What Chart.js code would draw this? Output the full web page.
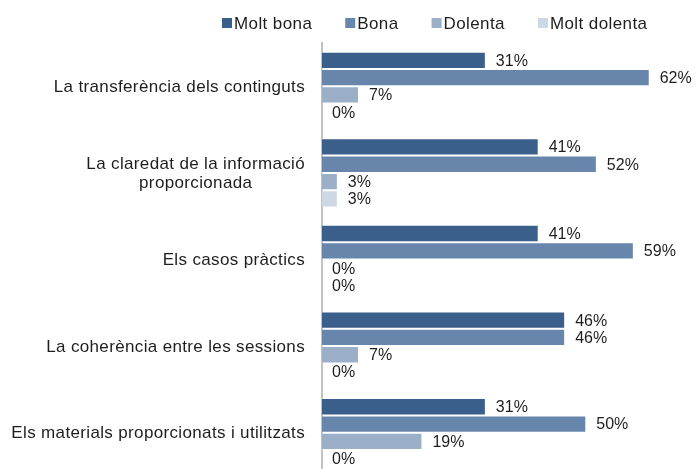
<!DOCTYPE html>
<html>
<head>
<meta charset="utf-8">
<script src="https://cdn.jsdelivr.net/npm/chart.js@4/dist/chart.umd.min.js"></script>
<style>
    html, body { margin: 0; padding: 0; background: #ffffff; overflow: hidden; }
    #chart { display: block; }
</style>
</head>
<body>
<canvas id="chart" width="696" height="476"></canvas>
<script>
// Dades de l'enquesta (percentatges)
const categories = [
    'La transferència dels continguts',
    ['La claredat de la informació', 'proporcionada'],
    'Els casos pràctics',
    'La coherència entre les sessions',
    'Els materials proporcionats i utilitzats'
];
const seriesNames = ['Molt bona', 'Bona', 'Dolenta', 'Molt dolenta'];
const moltBona = [31, 41, 41, 46, 31];
const bona = [62, 52, 59, 46, 50];
const dolenta = [7, 3, 0, 7, 19];
const moltDolenta = [0, 3, 0, 0, 0];
const seriesColors = ['#3b5f8b', '#6886ab', '#9bafc8', '#cdd8e5'];
const axisMax = 70;

const FONT = '"Liberation Sans", Arial, sans-serif';
const TEXT_COLOR = '#1e1e1e';

// Llegenda dibuixada a mà (caixes petites enganxades al text)
const legendPlugin = {
    id: 'legendPlugin',
    afterDraw(chart) {
        const ctx = chart.ctx;
        ctx.save();
        ctx.font = '17px ' + FONT;
        ctx.letterSpacing = '0.4px';
        ctx.textBaseline = 'middle';
        ctx.textAlign = 'left';
        let x = 222;
        chart.data.datasets.forEach(ds => {
            ctx.fillStyle = ds.backgroundColor;
            ctx.fillRect(x, 18, 10, 10);
            ctx.fillStyle = TEXT_COLOR;
            ctx.fillText(ds.label, x + 12, 24);
            x += 12 + ctx.measureText(ds.label).width + 33;
        });
        ctx.restore();
    }
};

// Etiquetes de categoria (alineades a la dreta, línies centrades)
const categoryLabels = {
    id: 'categoryLabels',
    afterDraw(chart) {
        const ctx = chart.ctx;
        const yScale = chart.scales.y;
        ctx.save();
        ctx.font = '17px ' + FONT;
        ctx.letterSpacing = '0.35px';
        ctx.fillStyle = TEXT_COLOR;
        ctx.textBaseline = 'middle';
        ctx.textAlign = 'center';
        categories.forEach((label, i) => {
            const lines = Array.isArray(label) ? label : [label];
            const widths = lines.map(l => ctx.measureText(l).width);
            const blockW = Math.max(...widths);
            const cx = 305 - blockW / 2;
            const yc = yScale.getPixelForValue(i);
            const lh = 19;
            lines.forEach((l, k) => {
                ctx.fillText(l, cx, yc + 1 + (k - (lines.length - 1) / 2) * lh);
            });
        });
        ctx.restore();
    }
};

// Valors al costat de cada barra
const valueLabels = {
    id: 'valueLabels',
    afterDatasetsDraw(chart) {
        const ctx = chart.ctx;
        ctx.save();
        ctx.font = '16px ' + FONT;
        ctx.fillStyle = TEXT_COLOR;
        ctx.textBaseline = 'middle';
        ctx.textAlign = 'left';
        chart.data.datasets.forEach((ds, di) => {
            const meta = chart.getDatasetMeta(di);
            meta.data.forEach((bar, i) => {
                ctx.fillText(ds.data[i] + '%', bar.x + 10, bar.y + 1);
            });
        });
        ctx.restore();
    }
};

const allSeries = [moltBona, bona, dolenta, moltDolenta];
const datasets = allSeries.map((values, index) => ({
    label: seriesNames[index],
    data: values,
    backgroundColor: seriesColors[index],
    borderColor: 'rgba(255, 255, 255, 0.5)',
    borderWidth: 1,
    categoryPercentage: 0.8,
    barPercentage: 1.0
}));

new Chart(document.getElementById('chart'), {
    type: 'bar',
    data: {
        labels: categories,
        datasets: datasets
    },
    options: {
        indexAxis: 'y',
        responsive: false,
        animation: false,
        layout: {
            padding: { top: 43, right: 4, bottom: 0, left: 0 }
        },
        plugins: {
            legend: { display: false },
            tooltip: { enabled: false }
        },
        scales: {
            x: {
                display: false,
                min: 0,
                max: axisMax
            },
            y: {
                display: true,
                grid: { display: false },
                ticks: { display: false },
                border: { display: true, color: '#c2c2c2', width: 2 },
                afterFit(scale) {
                    scale.width = 322;
                }
            }
        }
    },
    plugins: [legendPlugin, categoryLabels, valueLabels]
});
</script>
</body>
</html>
